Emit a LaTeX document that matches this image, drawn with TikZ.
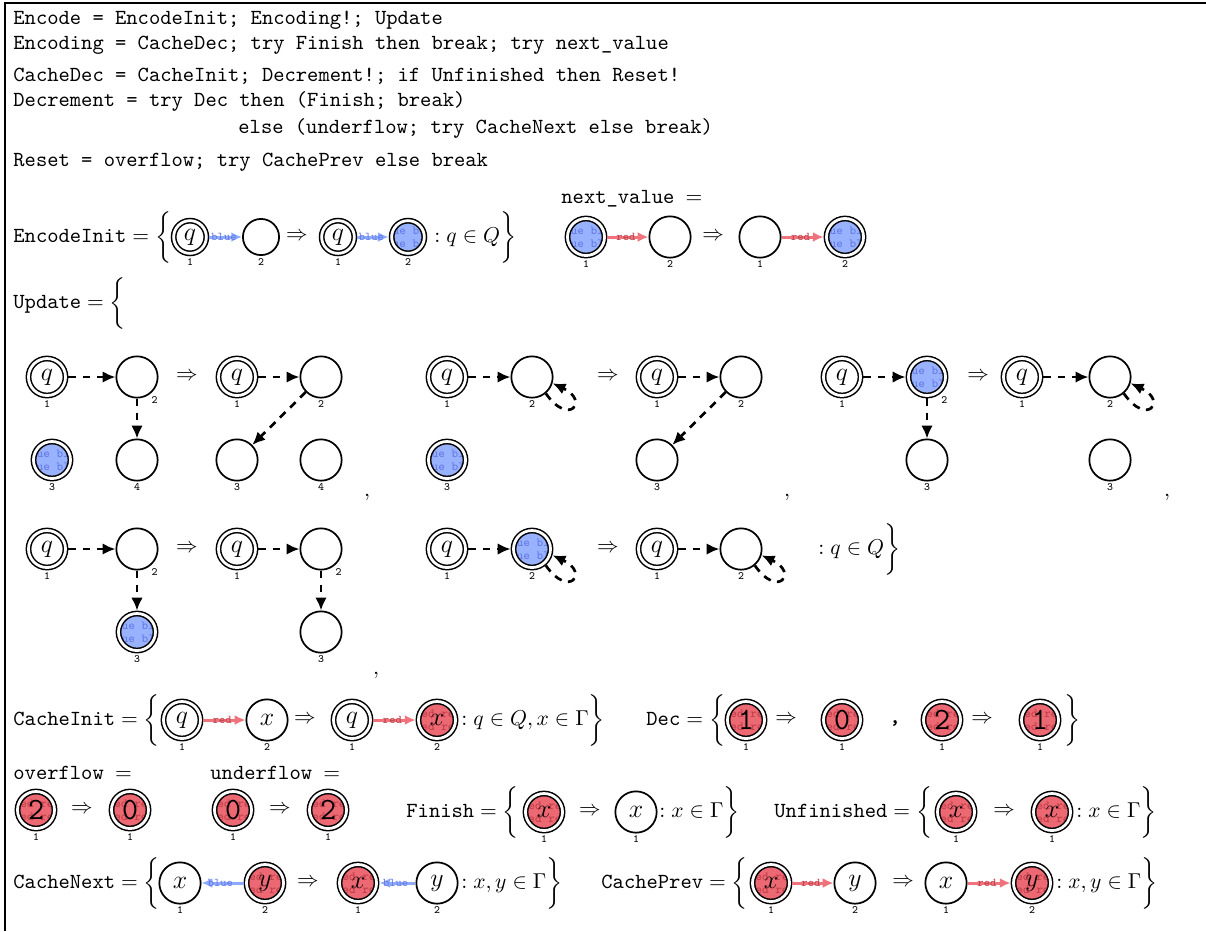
\documentclass[tikz,border=0pt]{standalone}
\usepackage{fontspec}
\usetikzlibrary{arrows.meta}
\definecolor{bluefill}{RGB}{152,178,255}
\definecolor{bluetxt}{RGB}{100,122,232}
\definecolor{redfill}{RGB}{236,104,114}
\definecolor{redtxt}{RGB}{192,62,72}
\definecolor{bluearr}{RGB}{140,170,255}
\definecolor{redarr}{RGB}{238,115,125}
\tikzset{
  x=0.4646pt, y=0.4646pt,
  st/.style={circle, draw, line width=0.8pt, minimum size=19.2pt, inner sep=0pt, font=\large},
  acc/.style={circle, draw, double, double distance=1.3pt, line width=0.7pt, minimum size=17.2pt, inner sep=0pt, outer sep=1.35pt, font=\large},
  sst/.style={st, minimum size=16.8pt},
  sacc/.style={acc, minimum size=15.2pt},
  dig/.style={font=\Large\ttfamily},
  pat/.style={rectangle, anchor=west, draw=none, fill=none, minimum size=0pt, inner sep=0pt, outer sep=0pt, align=left, font=\fontsize{5.8}{6.2}\selectfont\ttfamily},
  bf/.style={fill=bluefill, path picture={\node[pat, text=bluetxt, xshift=-13.3pt] at (path picture bounding box.center) {blue blue\\blue blue\\blue blue\\blue blue};}},
  rf/.style={fill=redfill, path picture={\node[pat, text=redtxt, xshift=-10.3pt] at (path picture bounding box.center) {red red\\red red\\red red\\red red};}},
  lab/.style={font=\fontsize{5.2}{6}\selectfont\ttfamily, inner sep=0.8pt},
  dar/.style={-{Latex[length=6pt,width=5.4pt]}, dash pattern=on 3.6pt off 3pt, line width=1.25pt},
  barr/.style={draw=bluearr, line width=1.4pt, -{Latex[length=5pt,width=4.6pt]}},
  rarr/.style={draw=redarr, line width=1.4pt, -{Latex[length=5pt,width=4.6pt]}},
  elb/.style={font=\fontsize{5.5}{5.5}\selectfont\ttfamily, inner sep=0pt},
  txt/.style={anchor=base west, inner sep=0pt, font=\ttfamily},
  mth/.style={anchor=west, inner sep=0pt},
  imp/.style={inner sep=0pt},
}
\begin{document}
\begin{tikzpicture}
\useasboundingbox (0,0) rectangle (1206,-931);
\draw[line width=0.6pt] (5,-931) -- (5,-3) -- (1206,-3);
% program text
\node[txt] (t1) at (13,-24) {Encode = EncodeInit; Encoding!; Update};
\node[txt] (t2) at (13,-49) {Encoding = CacheDec; try Finish then break; try next\_value};
\node[txt] (t3) at (13,-81) {CacheDec = CacheInit; Decrement!; if Unfinished then Reset!};
\node[txt] (t4) at (13,-106) {Decrement = try Dec then (Finish; break)};
\node[txt] (t5) at (238,-133) {else (underflow; try CacheNext else break)};
\node[txt] (t6) at (13,-166) {Reset = overflow; try CachePrev else break};
% EncodeInit
\node[mth] (eil) at (13,-237) {$\texttt{EncodeInit} = \bigg\{$};
\node[sacc, label={[lab]below:1}] (e1) at (190,-237) {$q$};
\node[sst, label={[lab]below:2}] (e2) at (261,-237) {};
\node[imp] (ei) at (297,-237) {$\Rightarrow$};
\node[sacc, label={[lab]below:1}] (e3) at (338,-237) {$q$};
\node[sacc, bf, label={[lab]below:2}] (e4) at (408,-237) {};
\draw[barr] (e1) -- node[elb, text=bluetxt, pos=0.45] {blue} (e2);
\draw[barr] (e3) -- node[elb, text=bluetxt, pos=0.45] {blue} (e4);
\node[mth] (eir) at (434,-237) {$: q \in Q \bigg\}$};
% next_value
\node[txt] (nvl) at (561,-203) {next\_value $=$};
\node[acc, bf, label={[lab]below:1}] (n1) at (586,-237) {};
\node[st, label={[lab]below:2}] (n2) at (670,-237) {};
\node[imp] (ni) at (713,-237) {$\Rightarrow$};
\node[st, label={[lab]below:1}] (n3) at (760,-237) {};
\node[acc, bf, label={[lab]below:2}] (n4) at (845,-237) {};
\draw[rarr] (n1) -- node[elb, text=redtxt, pos=0.45] {red} (n2);
\draw[rarr] (n3) -- node[elb, text=redtxt, pos=0.45] {red} (n4);
% Update
\node[mth] (upl) at (13,-303) {$\texttt{Update} = \bigg\{$};
% group 1
\node[acc, label={[lab]below:1}] (a1) at (47,-377) {$q$};
\node[st, label={[lab]-55:2}] (a2) at (137,-377) {};
\node[acc, bf, label={[lab]below:3}] (a3) at (52,-460) {};
\node[st, label={[lab]below:4}] (a4) at (137,-460) {};
\node[imp] (ai) at (187,-377) {$\Rightarrow$};
\node[acc, label={[lab]below:1}] (b1) at (237,-377) {$q$};
\node[st, label={[lab]below:2}] (b2) at (321,-377) {};
\node[st, label={[lab]below:3}] (b3) at (237,-460) {};
\node[st, label={[lab]below:4}] (b4) at (321,-460) {};
\draw[dar] (a1) -- (a2);
\draw[dar] (a2) -- (a4);
\draw[dar] (b1) -- (b2);
\draw[dar] (b2) -- (b3);
\node[imp] (cm1) at (367,-497) {$,$};
% group 2
\node[acc, label={[lab]below:1}] (c1) at (447,-377) {$q$};
\node[st, label={[lab]below:2}] (c2) at (532,-377) {};
\node[acc, bf, label={[lab]below:3}] (c3) at (447,-460) {};
\node[imp] (ci) at (608,-377) {$\Rightarrow$};
\node[acc, label={[lab]below:1}] (d1) at (657,-377) {$q$};
\node[st, label={[lab]below:2}] (d2) at (741,-377) {};
\node[st, label={[lab]below:3}] (d3) at (657,-460) {};
\draw[dar] (c1) -- (c2);
\draw[dar] (c2.-50) .. controls +(-55:19pt) and +(-25:19pt) .. (c2.-17);
\draw[dar] (d1) -- (d2);
\draw[dar] (d2) -- (d3);
\node[imp] (cm2) at (787,-497) {$,$};
% group 3
\node[acc, label={[lab]below:1}] (f1) at (842,-377) {$q$};
\node[acc, bf, label={[lab]-55:2}] (f2) at (927,-377) {};
\node[st, label={[lab]below:3}] (f3) at (927,-460) {};
\node[imp] (fi) at (978,-377) {$\Rightarrow$};
\node[acc, label={[lab]below:1}] (g1) at (1022,-377) {$q$};
\node[st, label={[lab]below:2}] (g2) at (1110,-377) {};
\node[st, label={[lab]below:3}] (g3) at (1110,-460) {};
\draw[dar] (f1) -- (f2);
\draw[dar] (f2) -- (f3);
\draw[dar] (g1) -- (g2);
\draw[dar] (g2.-50) .. controls +(-55:19pt) and +(-25:19pt) .. (g2.-17);
\node[imp] (cm3) at (1167,-497) {$,$};
% group 4
\node[acc, label={[lab]below:1}] (h1) at (47,-549) {$q$};
\node[st, label={[lab]-55:2}] (h2) at (137,-549) {};
\node[acc, bf, label={[lab]below:3}] (h3) at (137,-632) {};
\node[imp] (hi) at (187,-549) {$\Rightarrow$};
\node[acc, label={[lab]below:1}] (i1) at (237,-549) {$q$};
\node[st, label={[lab]-55:2}] (i2) at (321,-549) {};
\node[st, label={[lab]below:3}] (i3) at (321,-632) {};
\draw[dar] (h1) -- (h2);
\draw[dar] (h2) -- (h3);
\draw[dar] (i1) -- (i2);
\draw[dar] (i2) -- (i3);
\node[imp] (cm4) at (376,-675) {$,$};
% group 5
\node[acc, label={[lab]below:1}] (j1) at (447,-549) {$q$};
\node[acc, bf, label={[lab]below:2}] (j2) at (532,-549) {};
\node[imp] (ji) at (608,-549) {$\Rightarrow$};
\node[acc, label={[lab]below:1}] (k1) at (657,-549) {$q$};
\node[st, label={[lab]below:2}] (k2) at (741,-549) {};
\draw[dar] (j1) -- (j2);
\draw[dar] (j2.-50) .. controls +(-55:19pt) and +(-25:19pt) .. (j2.-17);
\draw[dar] (k1) -- (k2);
\draw[dar] (k2.-50) .. controls +(-55:19pt) and +(-25:19pt) .. (k2.-17);
\node[mth] (upr) at (818,-549) {$: q \in Q \bigg\}$};
% CacheInit
\node[mth] (cil) at (13,-720) {$\texttt{CacheInit} = \bigg\{$};
\node[acc, label={[lab]below:1}] (ci1) at (182,-720) {$q$};
\node[st, label={[lab]below:2}] (ci2) at (267,-720) {$x$};
\node[imp] (cii) at (305,-720) {$\Rightarrow$};
\node[acc, label={[lab]below:1}] (ci3) at (352,-720) {$q$};
\node[acc, rf, label={[lab]below:2}] (ci4) at (437,-720) {$x$};
\draw[rarr] (ci1) -- node[elb, text=redtxt, pos=0.45] {red} (ci2);
\draw[rarr] (ci3) -- node[elb, text=redtxt, pos=0.45] {red} (ci4);
\node[mth] (cir) at (461,-720) {$: q \in Q, x \in \Gamma \bigg\}$};
% Dec
\node[mth] (dcl) at (646,-720) {$\texttt{Dec} = \bigg\{$};
\node[acc, rf, dig, label={[lab]below:1}] (dc1) at (746,-720) {1};
\node[imp] (dci1) at (786,-720) {$\Rightarrow$};
\node[acc, rf, dig, label={[lab]below:1}] (dc2) at (842,-720) {0};
\node[imp, font=\bfseries\ttfamily] (dcc) at (895,-723) {,};
\node[acc, rf, dig, label={[lab]below:1}] (dc3) at (942,-720) {2};
\node[imp] (dci2) at (982,-720) {$\Rightarrow$};
\node[acc, rf, dig, label={[lab]below:1}] (dc4) at (1040,-720) {1};
\node[mth] (dcr) at (1064,-720) {$\bigg\}$};
% overflow / underflow
\node[txt] (ovl) at (13,-779) {overflow $=$};
\node[acc, rf, dig, label={[lab]below:1}] (o1) at (36,-810) {2};
\node[imp] (oi) at (82,-810) {$\Rightarrow$};
\node[acc, rf, dig, label={[lab]below:1}] (o2) at (130,-810) {0};
\node[txt] (unl) at (210,-779) {underflow $=$};
\node[acc, rf, dig, label={[lab]below:1}] (u1) at (233,-810) {0};
\node[imp] (ui) at (280,-810) {$\Rightarrow$};
\node[acc, rf, dig, label={[lab]below:1}] (u2) at (328,-810) {2};
% Finish
\node[mth] (fnl) at (406,-812) {$\texttt{Finish} = \bigg\{$};
\node[acc, rf, label={[lab]below:1}] (fn1) at (544,-812) {$x$};
\node[imp] (fni) at (590,-812) {$\Rightarrow$};
\node[st, label={[lab]below:1}] (fn2) at (636,-812) {$x$};
\node[mth] (fnr) at (659,-812) {$: x \in \Gamma \bigg\}$};
% Unfinished
\node[mth] (ufl) at (774,-812) {$\texttt{Unfinished} = \bigg\{$};
\node[acc, rf, label={[lab]below:1}] (uf1) at (956,-812) {$x$};
\node[imp] (ufi) at (1004,-812) {$\Rightarrow$};
\node[acc, rf, label={[lab]below:1}] (uf2) at (1052,-812) {$x$};
\node[mth] (ufr) at (1076,-812) {$: x \in \Gamma \bigg\}$};
% CacheNext
\node[mth] (cnl) at (13,-883) {$\texttt{CacheNext} = \bigg\{$};
\node[st, label={[lab]below:1}] (cn1) at (180,-883) {$x$};
\node[acc, rf, label={[lab]below:2}] (cn2) at (265,-883) {$y$};
\node[imp] (cni) at (308,-883) {$\Rightarrow$};
\node[acc, rf, label={[lab]below:1}] (cn3) at (358,-883) {$x$};
\node[st, label={[lab]below:2}] (cn4) at (437,-883) {$y$};
\draw[barr] (cn2) -- node[elb, text=bluetxt, pos=0.55] {blue} (cn1);
\draw[barr] (cn4) -- node[elb, text=bluetxt, pos=0.55] {blue} (cn3);
\node[mth] (cnr) at (461,-883) {$: x,y \in \Gamma \bigg\}$};
% CachePrev
\node[mth] (cpl) at (601,-883) {$\texttt{CachePrev} = \bigg\{$};
\node[acc, rf, label={[lab]below:1}] (cp1) at (771,-883) {$x$};
\node[st, label={[lab]below:2}] (cp2) at (855,-883) {$y$};
\node[imp] (cpi) at (903,-883) {$\Rightarrow$};
\node[st, label={[lab]below:1}] (cp3) at (946,-883) {$x$};
\node[acc, rf, label={[lab]below:2}] (cp4) at (1032,-883) {$y$};
\draw[rarr] (cp1) -- node[elb, text=redtxt, pos=0.45] {red} (cp2);
\draw[rarr] (cp3) -- node[elb, text=redtxt, pos=0.45] {red} (cp4);
\node[mth] (cpr) at (1056,-883) {$: x,y \in \Gamma \bigg\}$};
\end{tikzpicture}
\end{document}
